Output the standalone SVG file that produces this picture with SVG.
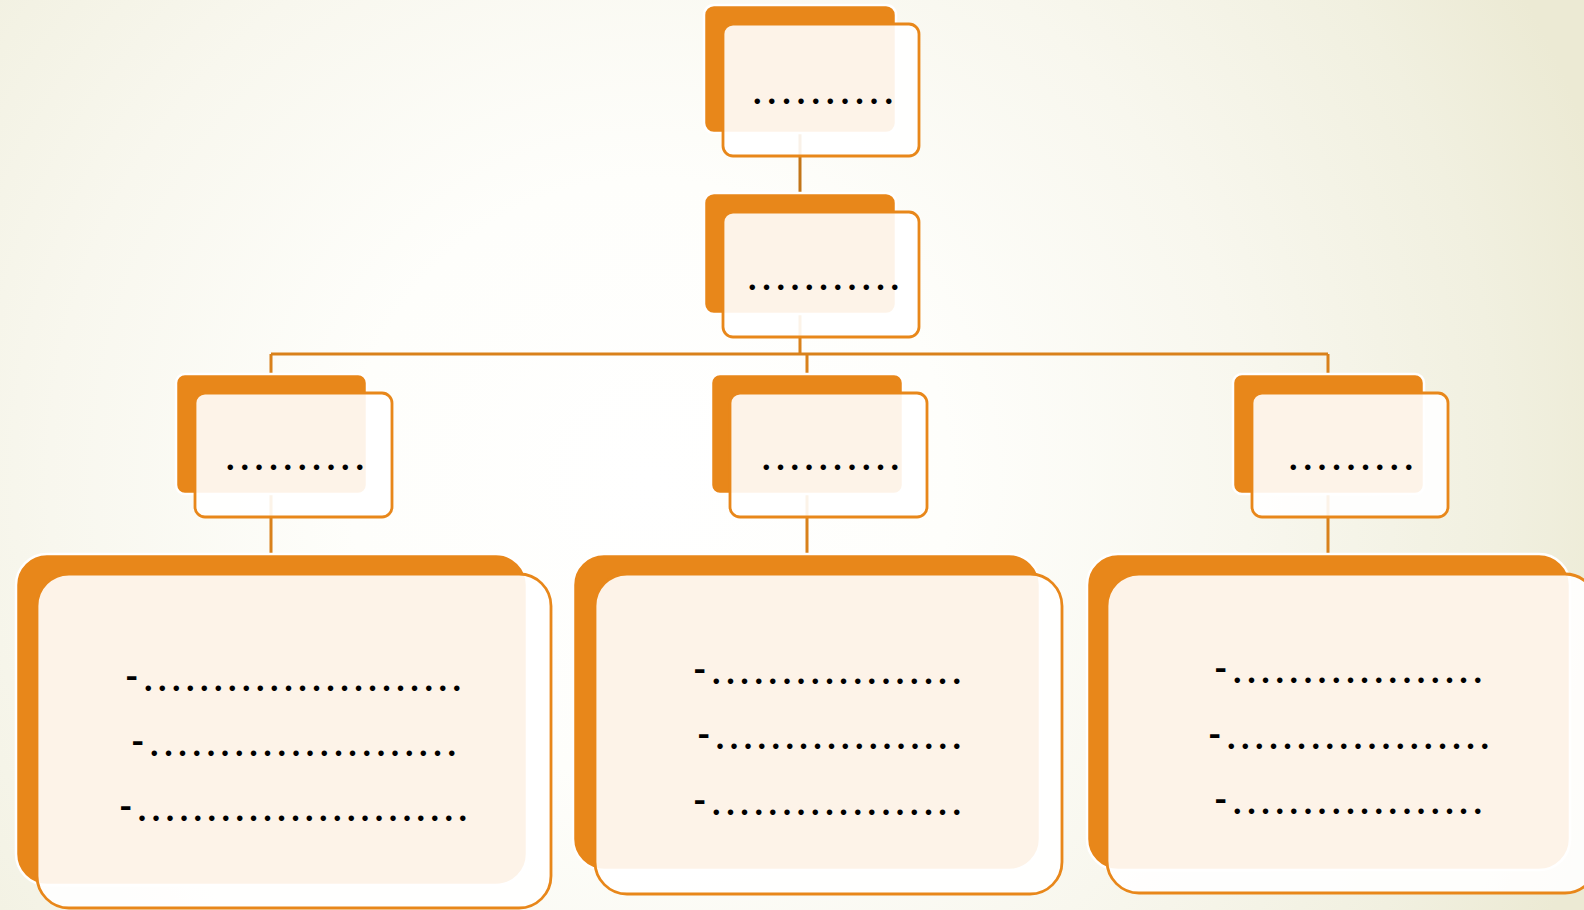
<svg xmlns="http://www.w3.org/2000/svg" width="1584" height="910" viewBox="0 0 1584 910">
  <defs>
    <radialGradient id="bg" gradientUnits="userSpaceOnUse" cx="650" cy="480" r="1000">
      <stop offset="0" stop-color="#FFFFFF"/>
      <stop offset="0.3" stop-color="#FEFEFB"/>
      <stop offset="0.6" stop-color="#F8F7EE"/>
      <stop offset="0.85" stop-color="#F1F0E0"/>
      <stop offset="1" stop-color="#ECEAD4"/>
    </radialGradient>
    <style>
      .back { fill: #E8871A; stroke: #FFFFFF; stroke-width: 2.5; }
      .front { fill: #FFFFFF; fill-opacity: 0.9; stroke: #E8871A; stroke-width: 2.8; }
      .link { fill: none; stroke: #D9811B; stroke-width: 3; }
      .trunk { stroke: #C27518; }
      .dots { font-family: Lato, "Open Sans", sans-serif; font-weight: bold; font-size: 36px; fill: #000000; }
    </style>
  </defs>

  <rect x="0" y="0" width="1584" height="910" fill="url(#bg)"/>

  <!-- connectors -->
  <g id="connectors">
    <line class="link trunk" x1="800" y1="133" x2="800" y2="193"/>
    <line class="link" x1="800" y1="314" x2="800" y2="355"/>
    <line class="link" x1="271" y1="354" x2="1328" y2="354"/>
    <line class="link" x1="271" y1="354" x2="271" y2="374"/>
    <line class="link" x1="807" y1="354" x2="807" y2="374"/>
    <line class="link" x1="1328" y1="354" x2="1328" y2="374"/>
    <line class="link" x1="271" y1="494" x2="271" y2="554"/>
    <line class="link" x1="807" y1="494" x2="807" y2="554"/>
    <line class="link" x1="1328" y1="494" x2="1328" y2="554"/>
  </g>

  <!-- level 1 -->
  <g id="node-top">
    <rect class="back" x="704" y="5" width="192" height="128" rx="10"/>
    <rect class="front" x="723" y="24" width="196" height="132" rx="10"/>
    <text class="dots" x="753" y="103.5" textLength="140" lengthAdjust="spacing">..........</text>
  </g>

  <!-- level 2 -->
  <g id="node-second">
    <rect class="back" x="704" y="193" width="192" height="121" rx="10"/>
    <rect class="front" x="723" y="212" width="196" height="125" rx="10"/>
    <text class="dots" x="748" y="289.5" textLength="151" lengthAdjust="spacing">...........</text>
  </g>

  <!-- level 3 -->
  <g id="node-left">
    <rect class="back" x="176" y="374" width="191" height="120" rx="9"/>
    <rect class="front" x="195" y="393" width="197" height="124" rx="10"/>
    <text class="dots" x="226" y="469.5" textLength="138" lengthAdjust="spacing">..........</text>
  </g>
  <g id="node-center">
    <rect class="back" x="711" y="374" width="192" height="120" rx="9"/>
    <rect class="front" x="730" y="393" width="197" height="124" rx="10"/>
    <text class="dots" x="762" y="469.5" textLength="137" lengthAdjust="spacing">..........</text>
  </g>
  <g id="node-right">
    <rect class="back" x="1233" y="374" width="191" height="120" rx="9"/>
    <rect class="front" x="1252" y="393" width="196" height="124" rx="10"/>
    <text class="dots" x="1289" y="469.5" textLength="124" lengthAdjust="spacing">.........</text>
  </g>

  <!-- detail boxes -->
  <g id="box-left">
    <rect class="back" x="16" y="554" width="511" height="331" rx="31"/>
    <rect class="front" x="37" y="574" width="514" height="334" rx="32"/>
    <text class="dots" x="125" y="690.5" textLength="336" lengthAdjust="spacing"><tspan dy="-2">-</tspan><tspan dy="2">.......................</tspan></text>
    <text class="dots" x="131" y="755.5" textLength="325" lengthAdjust="spacing"><tspan dy="-2">-</tspan><tspan dy="2">......................</tspan></text>
    <text class="dots" x="119" y="820.5" textLength="348" lengthAdjust="spacing"><tspan dy="-2">-</tspan><tspan dy="2">........................</tspan></text>
  </g>

  <g id="box-center">
    <rect class="back" x="573" y="554" width="467" height="316" rx="31"/>
    <rect class="front" x="595" y="574" width="467" height="320" rx="32"/>
    <text class="dots" x="693" y="683.5" textLength="268" lengthAdjust="spacing"><tspan dy="-2">-</tspan><tspan dy="2">..................</tspan></text>
    <text class="dots" x="697" y="748.5" textLength="264" lengthAdjust="spacing"><tspan dy="-2">-</tspan><tspan dy="2">..................</tspan></text>
    <text class="dots" x="693" y="814.5" textLength="268" lengthAdjust="spacing"><tspan dy="-2">-</tspan><tspan dy="2">..................</tspan></text>
  </g>

  <g id="box-right">
    <rect class="back" x="1087" y="554" width="483" height="316" rx="31"/>
    <rect class="front" x="1107" y="574" width="490" height="319" rx="32"/>
    <text class="dots" x="1214" y="682.5" textLength="268" lengthAdjust="spacing"><tspan dy="-2">-</tspan><tspan dy="2">..................</tspan></text>
    <text class="dots" x="1208" y="748.5" textLength="281" lengthAdjust="spacing"><tspan dy="-2">-</tspan><tspan dy="2">...................</tspan></text>
    <text class="dots" x="1214" y="813.5" textLength="268" lengthAdjust="spacing"><tspan dy="-2">-</tspan><tspan dy="2">..................</tspan></text>
  </g>
</svg>
